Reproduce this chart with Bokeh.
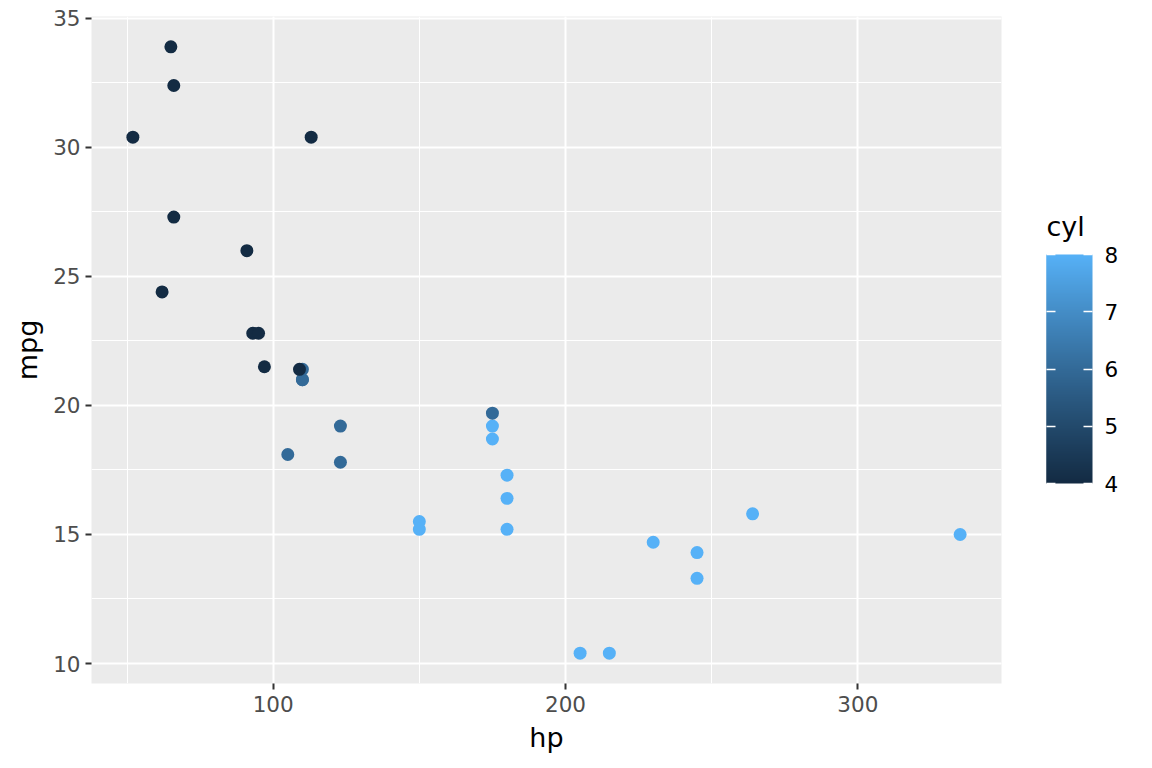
from bokeh.plotting import figure
from bokeh.models import (ColumnDataSource, LinearColorMapper, ColorBar, FixedTicker,
                          SingleIntervalTicker, Range1d)
from bokeh.embed import file_html
from bokeh.resources import INLINE

# mtcars data
hp = [110, 110, 93, 110, 175, 105, 245, 62, 95, 123, 123, 180, 180, 180, 205, 215,
      230, 66, 52, 65, 97, 150, 150, 245, 175, 66, 91, 113, 264, 175, 335, 109]
mpg = [21.0, 21.0, 22.8, 21.4, 18.7, 18.1, 14.3, 24.4, 22.8, 19.2, 17.8, 16.4, 17.3, 15.2,
       10.4, 10.4, 14.7, 32.4, 30.4, 33.9, 21.5, 15.5, 15.2, 13.3, 19.2, 27.3, 26.0, 30.4,
       15.8, 19.7, 15.0, 21.4]
cyl = [6, 6, 4, 6, 8, 6, 8, 4, 4, 6, 6, 8, 8, 8, 8, 8,
       8, 4, 4, 4, 4, 8, 8, 8, 8, 4, 4, 4, 8, 6, 8, 4]
cyl_ticks = [4, 5, 6, 7, 8]

LOW_COL = "#132B43"
HIGH_COL = "#56B1F7"


# ---- Lab interpolation (like scales::seq_gradient_pal) ----
def _hex2rgb(h):
    h = h.lstrip("#")
    return [int(h[i:i + 2], 16) / 255 for i in (0, 2, 4)]


def _to_lin(c):
    return c / 12.92 if c <= 0.04045 else ((c + 0.055) / 1.055) ** 2.4


def _from_lin(c):
    v = 12.92 * c if c <= 0.0031308 else 1.055 * c ** (1 / 2.4) - 0.055
    return min(1, max(0, v))


WN = (0.95047, 1.0, 1.08883)


def _rgb2lab(rgb):
    r, g, b = [_to_lin(c) for c in rgb]
    x = 0.4124564 * r + 0.3575761 * g + 0.1804375 * b
    y = 0.2126729 * r + 0.7151522 * g + 0.0721750 * b
    z = 0.0193339 * r + 0.1191920 * g + 0.9503041 * b

    def f(t):
        return t ** (1 / 3) if t > 216 / 24389 else (24389 / 27 * t + 16) / 116

    fx, fy, fz = f(x / WN[0]), f(y / WN[1]), f(z / WN[2])
    return (116 * fy - 16, 500 * (fx - fy), 200 * (fy - fz))


def _lab2hex(lab):
    L, a, b = lab
    fy = (L + 16) / 116
    fx = fy + a / 500
    fz = fy - b / 200

    def finv(t):
        return t ** 3 if t ** 3 > 216 / 24389 else (116 * t - 16) / (24389 / 27)

    x, y, z = finv(fx) * WN[0], finv(fy) * WN[1], finv(fz) * WN[2]
    r = 3.2404542 * x - 1.5371385 * y - 0.4985314 * z
    g = -0.9692660 * x + 1.8760108 * y + 0.0415560 * z
    bb = 0.0556434 * x - 0.2040259 * y + 1.0572252 * z
    return "#%02x%02x%02x" % tuple(int(round(_from_lin(c) * 255)) for c in (r, g, bb))


lab_lo = _rgb2lab(_hex2rgb(LOW_COL))
lab_hi = _rgb2lab(_hex2rgb(HIGH_COL))
N = 256
palette = [_lab2hex(tuple(lab_lo[k] + (lab_hi[k] - lab_lo[k]) * i / (N - 1) for k in range(3)))
           for i in range(N)]

mapper = LinearColorMapper(palette=palette, low=4, high=8)

source = ColumnDataSource(dict(hp=hp, mpg=mpg, cyl=cyl))

FONT = "DejaVu Sans"

X0, X1 = 37.85, 349.15
Y0, Y1 = 9.225, 35.075
FW, FH = 910, 667

p = figure(width=1150, height=766, output_backend="svg", toolbar_location=None,
           x_range=Range1d(X0, X1), y_range=Range1d(Y0, Y1),
           min_border_left=91, min_border_top=16, min_border_bottom=83, min_border_right=149)
p.background_fill_color = "#EBEBEB"
p.border_fill_color = "white"
p.outline_line_color = None

p.xaxis.ticker = SingleIntervalTicker(interval=100, num_minor_ticks=2)
p.yaxis.ticker = SingleIntervalTicker(interval=5, num_minor_ticks=2)

p.xgrid.ticker = p.xaxis.ticker
p.ygrid.ticker = p.yaxis.ticker
for g in (p.xgrid, p.ygrid):
    g.grid_line_color = "white"
    g.grid_line_width = 2
    g.minor_grid_line_color = "white"
    g.minor_grid_line_width = 1

for ax in (p.xaxis, p.yaxis):
    ax.axis_line_color = None
    ax.major_tick_line_color = "#333333"
    ax.major_tick_line_width = 2
    ax.major_tick_in = 0
    ax.major_tick_out = 6
    ax.minor_tick_line_color = None
    ax.major_label_text_font = FONT
    ax.major_label_text_font_size = "21.5px"
    ax.major_label_text_color = "#4D4D4D"
    ax.axis_label_text_font = FONT
    ax.axis_label_text_font_size = "27px"
    ax.axis_label_text_font_style = "normal"
    ax.axis_label_text_color = "black"

p.xaxis.major_label_standoff = 6
p.yaxis.major_label_standoff = 5
p.xaxis.axis_label = "hp"
p.yaxis.axis_label = "mpg"
p.xaxis.axis_label_standoff = 7
p.yaxis.axis_label_standoff = 7

p.scatter("hp", "mpg", source=source, size=13, line_color=None,
          fill_color={"field": "cyl", "transform": mapper})

# colour bar (main bar with right-side ticks and labels)
cb = ColorBar(color_mapper=mapper, ticker=FixedTicker(ticks=cyl_ticks),
              width=46, height=229,
              major_label_text_font=FONT, major_label_text_font_size="21.5px",
              major_label_text_color="black", label_standoff=12,
              major_tick_line_color="white", major_tick_line_width=1.5,
              major_tick_in=9, major_tick_out=0,
              bar_line_color=None, border_line_color=None, background_fill_color=None,
              margin=0, padding=0, location=(FW + 45, 200))
p.add_layout(cb, "center")

# thin overlay bar supplying the left-side ticks
cb_left = ColorBar(color_mapper=mapper, ticker=FixedTicker(ticks=cyl_ticks),
                   width=9, height=229,
                   major_label_text_color=None, major_label_text_font_size="1px",
                   major_tick_line_color="white", major_tick_line_width=1.5,
                   major_tick_in=9, major_tick_out=0,
                   bar_line_color=None, border_line_color=None, background_fill_color=None,
                   margin=0, padding=0, location=(FW + 45, 200))
p.add_layout(cb_left, "center")

# legend title: an invisible horizontal bar whose (horizontal) title reads "cyl"
cb_title = ColorBar(color_mapper=mapper, ticker=FixedTicker(ticks=[]), orientation="horizontal",
                    width=46, height=1, scale_alpha=0,
                    title="cyl", title_standoff=3,
                    title_text_font=FONT, title_text_font_size="27px",
                    title_text_font_style="normal", title_text_color="black",
                    major_label_text_color=None, major_tick_line_color=None,
                    minor_tick_line_color=None,
                    bar_line_color=None, border_line_color=None, background_fill_color=None,
                    margin=0, padding=0, location=(FW + 45, 439))
p.add_layout(cb_title, "center")

open("out.html", "w").write(file_html(p, INLINE))
